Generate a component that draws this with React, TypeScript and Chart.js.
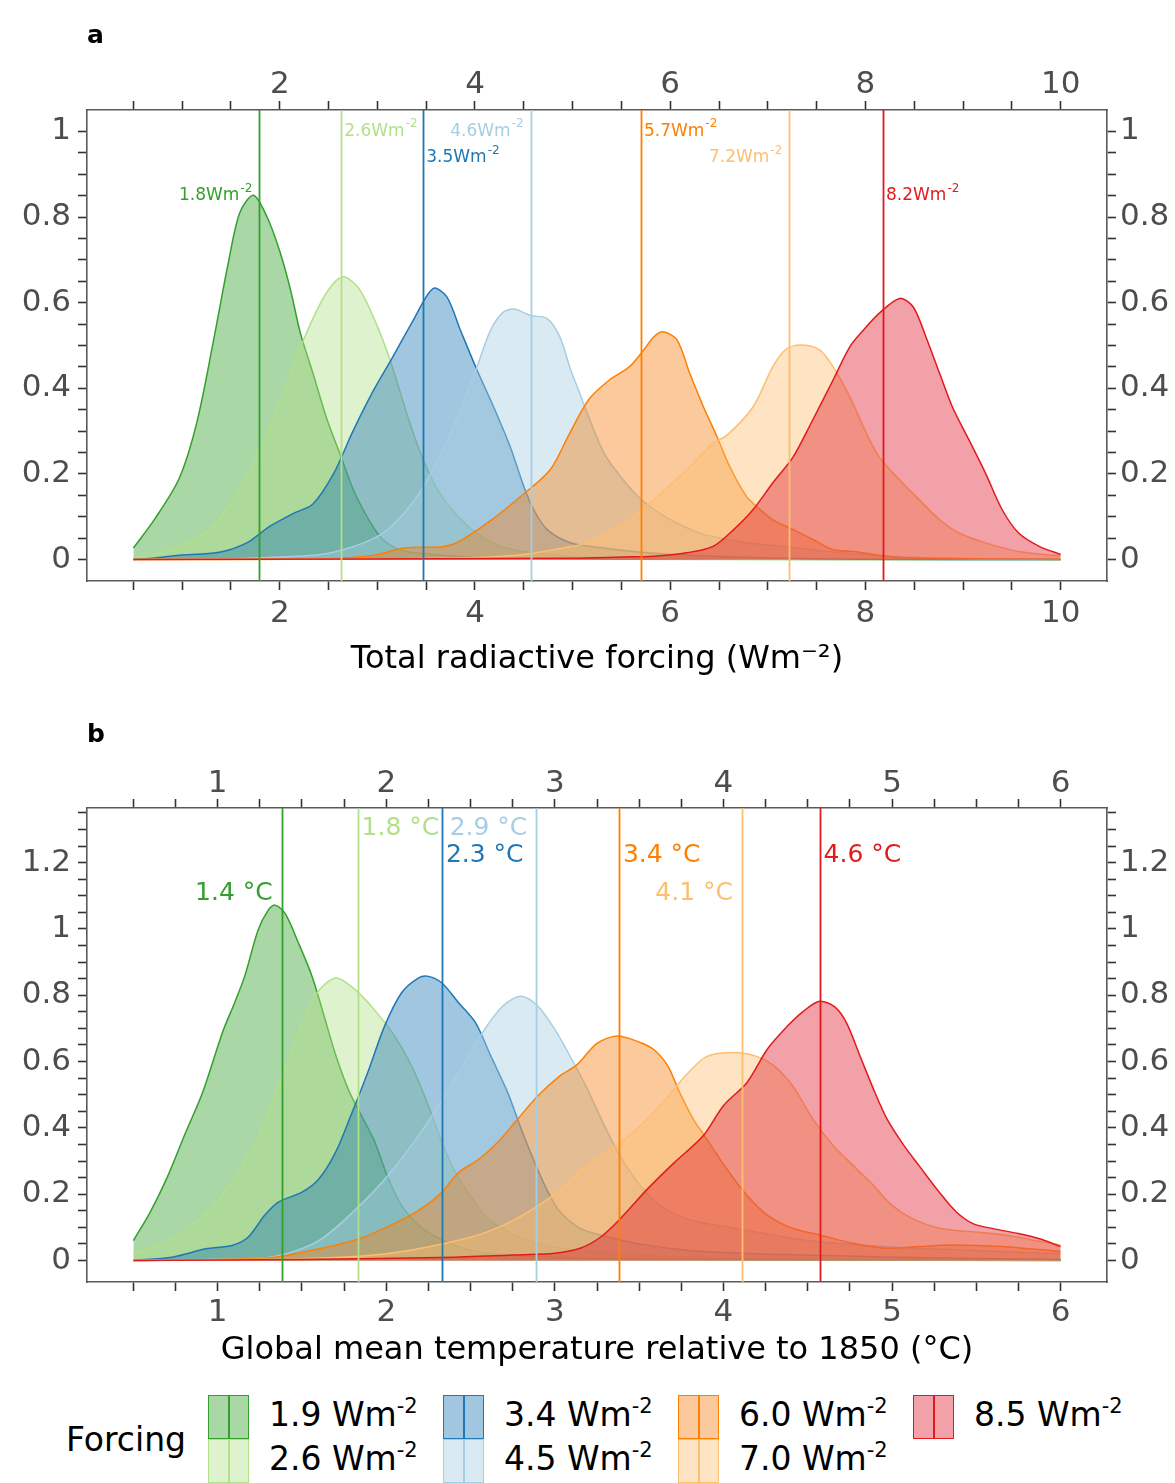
import React, { useEffect, useRef } from 'react';
import { Chart, registerables } from 'chart.js';

Chart.register(...registerables);

const FONT = '"DejaVu Sans", "Liberation Sans", sans-serif';

// ---------- shared categories / styling ----------
const forcingLevels = ['1.9', '2.6', '3.4', '4.5', '6.0', '7.0', '8.5'];
const lineColors = ['#33a02c', '#b2df8a', '#1f78b4', '#a6cee3', '#ff7f00', '#fdbf6f', '#e31a1c'];
const fillColors = [
  'rgba(51,160,44,0.42)',
  'rgba(178,223,138,0.42)',
  'rgba(31,120,180,0.42)',
  'rgba(166,206,227,0.42)',
  'rgba(245,127,20,0.42)',
  'rgba(253,191,111,0.42)',
  'rgba(222,30,45,0.42)',
];
const labelSides = ['right', 'left', 'left', 'right', 'left', 'right', 'left'];

// ---------- panel a: total radiative forcing densities [x, density] ----------
const rf19: [number, number][] = [[0.5,0.027],[0.72,0.095],[0.97,0.19],[1.15,0.32],[1.32,0.51],[1.47,0.69],[1.59,0.81],[1.73,0.851],[1.87,0.80],[2.0,0.72],[2.11,0.63],[2.21,0.53],[2.34,0.435],[2.48,0.33],[2.62,0.245],[2.75,0.165],[2.87,0.11],[2.99,0.065],[3.09,0.04],[3.27,0.02],[3.57,0.012],[3.97,0.006],[4.47,0.003],[5.5,0.001],[10,0]];
const rf26: [number, number][] = [[0.5,0.004],[0.72,0.012],[0.97,0.03],[1.22,0.06],[1.47,0.12],[1.72,0.22],[1.97,0.35],[2.22,0.5],[2.42,0.6],[2.57,0.65],[2.67,0.66],[2.82,0.63],[2.99,0.55],[3.13,0.466],[3.3,0.342],[3.44,0.25],[3.6,0.17],[3.77,0.115],[3.97,0.07],[4.22,0.035],[4.47,0.02],[4.97,0.008],[5.47,0.004],[6.5,0.001],[10,0]];
const rf34: [number, number][] = [[0.5,0],[0.72,0.004],[0.97,0.01],[1.27,0.014],[1.47,0.022],[1.67,0.04],[1.9,0.078],[2.14,0.108],[2.34,0.13],[2.55,0.2],[2.75,0.3],[2.96,0.395],[3.16,0.474],[3.37,0.56],[3.57,0.633],[3.71,0.614],[3.85,0.536],[4.02,0.443],[4.19,0.357],[4.36,0.264],[4.5,0.171],[4.6,0.117],[4.74,0.07],[4.97,0.04],[5.27,0.028],[5.67,0.018],[6.2,0.01],[7.0,0.004],[8.0,0.001],[10,0]];
const rf45: [number, number][] = [[0.5,0],[1.5,0.002],[2.0,0.006],[2.5,0.015],[2.97,0.05],[3.22,0.095],[3.47,0.17],[3.72,0.28],[3.87,0.36],[4.02,0.45],[4.16,0.536],[4.29,0.578],[4.4,0.585],[4.57,0.57],[4.74,0.563],[4.87,0.52],[4.97,0.45],[5.07,0.39],[5.17,0.33],[5.32,0.25],[5.47,0.2],[5.68,0.145],[5.95,0.1],[6.33,0.06],[6.78,0.04],[7.18,0.03],[7.78,0.015],[8.5,0.005],[10,0]];
const rf60: [number, number][] = [[0.5,0],[2.5,0.002],[2.97,0.01],[3.27,0.027],[3.67,0.03],[3.82,0.04],[4.17,0.093],[4.47,0.148],[4.77,0.21],[4.97,0.295],[5.17,0.375],[5.38,0.42],[5.58,0.45],[5.73,0.49],[5.83,0.52],[5.93,0.532],[6.07,0.513],[6.2,0.435],[6.34,0.357],[6.48,0.287],[6.61,0.217],[6.78,0.148],[6.92,0.117],[7.05,0.093],[7.26,0.07],[7.46,0.047],[7.67,0.023],[7.88,0.019],[8.21,0.008],[8.6,0.003],[10,0]];
const rf70: [number, number][] = [[0.5,0],[3.0,0.002],[4.0,0.005],[4.5,0.012],[4.97,0.03],[5.15,0.039],[5.49,0.078],[5.83,0.14],[6.17,0.21],[6.44,0.272],[6.58,0.29],[6.85,0.357],[7.05,0.45],[7.18,0.49],[7.33,0.501],[7.53,0.49],[7.67,0.45],[7.84,0.38],[8.01,0.295],[8.14,0.24],[8.35,0.186],[8.55,0.14],[8.76,0.093],[8.96,0.062],[9.23,0.039],[9.57,0.019],[10,0.008]];
const rf85: [number, number][] = [[0.5,0],[5.0,0.003],[5.5,0.006],[5.83,0.008],[6.17,0.016],[6.44,0.031],[6.65,0.07],[6.85,0.117],[7.05,0.179],[7.26,0.24],[7.46,0.326],[7.67,0.42],[7.84,0.497],[7.98,0.536],[8.14,0.575],[8.35,0.61],[8.49,0.59],[8.62,0.52],[8.76,0.435],[8.89,0.357],[9.06,0.28],[9.23,0.202],[9.4,0.117],[9.57,0.062],[9.78,0.031],[10,0.012]];
const rfMeans = [1.79, 2.63, 3.47, 4.57, 5.7, 7.22, 8.18];
const rfMeanLabels = ['1.8Wm', '2.6Wm', '3.5Wm', '4.6Wm', '5.7Wm', '7.2Wm', '8.2Wm'];
const rfLabelY = [0.85, 1.0, 0.938, 1.0, 1.0, 0.938, 0.85];
const rfAxisLabels = [2, 4, 6, 8, 10];
const rfDensityLabels = [0, 0.2, 0.4, 0.6, 0.8, 1];

// ---------- panel b: global mean temperature densities [x, density] ----------
const gt19: [number, number][] = [[0.5,0.06],[0.6,0.146],[0.7,0.25],[0.81,0.386],[0.91,0.506],[1.03,0.69],[1.1,0.777],[1.16,0.857],[1.24,0.997],[1.3,1.057],[1.34,1.072],[1.4,1.047],[1.48,0.957],[1.56,0.857],[1.63,0.74],[1.7,0.62],[1.78,0.51],[1.85,0.44],[1.93,0.36],[2.01,0.25],[2.09,0.167],[2.19,0.107],[2.31,0.067],[2.45,0.037],[2.6,0.022],[3.0,0.01],[3.5,0.005],[4.5,0.002],[6,0]];
const gt26: [number, number][] = [[0.5,0.02],[0.75,0.07],[1.0,0.18],[1.23,0.36],[1.4,0.58],[1.58,0.8],[1.7,0.852],[1.815,0.817],[1.93,0.756],[2.05,0.677],[2.15,0.587],[2.25,0.467],[2.33,0.356],[2.41,0.266],[2.51,0.187],[2.6,0.127],[2.72,0.087],[2.86,0.057],[3.03,0.037],[3.3,0.025],[3.7,0.012],[4.2,0.005],[5,0.002],[6,0]];
const gt34: [number, number][] = [[0.5,0],[0.73,0.01],[0.93,0.035],[1.085,0.045],[1.18,0.07],[1.28,0.137],[1.36,0.176],[1.5,0.206],[1.6,0.246],[1.7,0.327],[1.79,0.437],[1.89,0.567],[1.99,0.707],[2.09,0.807],[2.19,0.852],[2.25,0.857],[2.33,0.837],[2.43,0.777],[2.53,0.717],[2.62,0.617],[2.72,0.507],[2.8,0.397],[2.88,0.296],[2.96,0.206],[3.03,0.147],[3.15,0.097],[3.27,0.077],[3.5,0.05],[3.8,0.03],[4.2,0.02],[4.6,0.015],[5.0,0.01],[5.5,0.006],[6,0.003]];
const gt45: [number, number][] = [[0.5,0],[1.0,0.004],[1.34,0.012],[1.6,0.06],[1.81,0.15],[2.0,0.25],[2.21,0.39],[2.41,0.55],[2.57,0.687],[2.69,0.767],[2.8,0.797],[2.9,0.767],[3.0,0.697],[3.1,0.607],[3.19,0.52],[3.31,0.39],[3.43,0.28],[3.59,0.18],[3.78,0.126],[4.08,0.096],[4.5,0.06],[5.0,0.04],[5.5,0.03],[6.0,0.02]];
const gt60: [number, number][] = [[0.5,0],[1.0,0.003],[1.34,0.01],[1.62,0.037],[1.85,0.067],[2.07,0.117],[2.21,0.157],[2.33,0.206],[2.43,0.266],[2.55,0.306],[2.66,0.356],[2.78,0.427],[2.9,0.497],[3.03,0.557],[3.13,0.59],[3.25,0.655],[3.37,0.677],[3.51,0.657],[3.59,0.635],[3.67,0.587],[3.74,0.507],[3.82,0.427],[3.9,0.367],[4.02,0.276],[4.14,0.196],[4.26,0.137],[4.41,0.097],[4.57,0.077],[4.77,0.052],[4.96,0.037],[5.16,0.042],[5.36,0.047],[5.65,0.042],[6.0,0.027]];
const gt70: [number, number][] = [[0.5,0],[1.5,0.005],[2.0,0.02],[2.5,0.07],[2.75,0.12],[3.0,0.2],[3.19,0.286],[3.39,0.356],[3.55,0.427],[3.68,0.5],[3.78,0.56],[3.9,0.615],[4.06,0.627],[4.2,0.615],[4.3,0.587],[4.41,0.527],[4.53,0.427],[4.65,0.347],[4.77,0.286],[4.89,0.226],[5.0,0.166],[5.12,0.126],[5.28,0.097],[5.46,0.087],[5.67,0.077],[5.83,0.062],[6.0,0.047]];
const gt85: [number, number][] = [[0.5,0],[1.5,0.003],[2.41,0.01],[2.8,0.017],[3.0,0.022],[3.15,0.037],[3.27,0.07],[3.39,0.127],[3.55,0.216],[3.71,0.296],[3.88,0.376],[4.0,0.467],[4.14,0.537],[4.26,0.637],[4.38,0.707],[4.47,0.75],[4.57,0.782],[4.66,0.765],[4.73,0.717],[4.81,0.617],[4.89,0.517],[4.97,0.427],[5.07,0.347],[5.16,0.286],[5.28,0.206],[5.38,0.147],[5.48,0.111],[5.6,0.096],[5.75,0.081],[5.87,0.066],[6.0,0.042]];
const gtMeans = [1.38, 1.83, 2.33, 2.89, 3.38, 4.11, 4.57];
const gtMeanLabels = ['1.4 °C', '1.8 °C', '2.3 °C', '2.9 °C', '3.4 °C', '4.1 °C', '4.6 °C'];
const gtLabelY = [1.108, 1.303, 1.222, 1.303, 1.222, 1.108, 1.222];
const gtAxisLabels = [1, 2, 3, 4, 5, 6];
const gtDensityLabels = [0, 0.2, 0.4, 0.6, 0.8, 1, 1.2];

function steps(start: number, end: number, step: number) {
  const out: number[] = [];
  const n = Math.round((end - start) / step);
  for (let i = 0; i <= n; i++) out.push(Math.round((start + i * step) * 1000) / 1000);
  return out;
}

type Spec = {
  series: [number, number][][];
  means: number[];
  labels: string[];
  labelSup: string;
  labelY: number[];
  labelFont: number;
  gapL: number;
  gapR: number;
  xMin: number; xMax: number; yMin: number; yMax: number;
  xTicks: number[]; xLabels: number[];
  yTicks: number[]; yLabels: number[];
  title: string;
  height: number;
  topH: number; bottomH: number;
  topPad: number; bottomPad: number; titlePad: number;
};

const specA: Spec = {
  series: [rf19, rf26, rf34, rf45, rf60, rf70, rf85],
  means: rfMeans, labels: rfMeanLabels, labelSup: '-2', labelY: rfLabelY, labelFont: 17, gapL: 3, gapR: 7,
  xMin: 0.025, xMax: 10.475, yMin: -0.05, yMax: 1.05,
  xTicks: steps(0.5, 10, 0.5), xLabels: rfAxisLabels,
  yTicks: steps(0, 1, 0.05), yLabels: rfDensityLabels,
  title: 'Total radiactive forcing (Wm\u207B\u00B2)',
  height: 700, topH: 110, bottomH: 119, topPad: -3, bottomPad: 5, titlePad: 21,
};

const specB: Spec = {
  series: [gt19, gt26, gt34, gt45, gt60, gt70, gt85],
  means: gtMeans, labels: gtMeanLabels, labelSup: '', labelY: gtLabelY, labelFont: 25, gapL: 4, gapR: 9,
  xMin: 0.225, xMax: 6.275, yMin: -0.065, yMax: 1.365,
  xTicks: steps(0.5, 6, 0.25), xLabels: gtAxisLabels,
  yTicks: steps(0, 1.35, 0.05), yLabels: gtDensityLabels,
  title: 'Global mean temperature relative to 1850 (\u00B0C)',
  height: 690, topH: 108, bottomH: 108, topPad: -4, bottomPad: 3, titlePad: 20,
};

const hasLabel = (list: number[], v: number) => list.some((l) => Math.abs(l - v) < 1e-6);

function makeAxis(spec: Spec, id: string, position: string) {
  const horizontal = position === 'top' || position === 'bottom';
  const tickVals = horizontal ? spec.xTicks : spec.yTicks;
  const labelVals = horizontal ? spec.xLabels : spec.yLabels;
  let pad = 0;
  if (position === 'bottom') pad = spec.bottomPad;
  else if (position === 'top') pad = spec.topPad;
  else if (position === 'left') pad = 7;
  else pad = 4;
  return {
    type: 'linear',
    position,
    display: true,
    min: horizontal ? spec.xMin : spec.yMin,
    max: horizontal ? spec.xMax : spec.yMax,
    afterBuildTicks: (scale: any) => {
      scale.ticks = tickVals.map((v) => ({ value: v }));
    },
    afterFit: (scale: any) => {
      if (position === 'top') scale.height = spec.topH;
      else if (position === 'bottom') scale.height = spec.bottomH;
      else if (position === 'left') scale.width = 87;
      else scale.width = 68;
    },
    grid: {
      display: true,
      drawOnChartArea: false,
      drawTicks: true,
      tickLength: 9,
      tickWidth: 1.6,
      tickColor: '#333333',
      color: '#333333',
    },
    border: { display: true, color: '#5a5a5a', width: 1.6 },
    ticks: {
      autoSkip: false,
      maxRotation: 0,
      minRotation: 0,
      padding: pad,
      color: '#4d4d4d',
      font: { family: FONT, size: 31 },
      callback: (v: number) => (hasLabel(labelVals, v) ? String(Math.round(v * 100) / 100) : ''),
    },
    title:
      id === 'x'
        ? {
            display: true,
            text: spec.title,
            color: '#000000',
            font: { family: FONT, size: 32 },
            padding: { top: 0, bottom: spec.titlePad },
          }
        : { display: false },
  };
}

function meanPlugin(spec: Spec) {
  return {
    id: 'meanMarkers',
    afterDatasetsDraw(chart: any) {
      const { ctx, chartArea, scales } = chart;
      const xs = scales.x;
      const ys = scales.y;
      ctx.save();
      spec.means.forEach((m, i) => {
        const px = Math.round(xs.getPixelForValue(m)) + 0.5;
        ctx.strokeStyle = lineColors[i];
        ctx.lineWidth = 1.8;
        ctx.beginPath();
        ctx.moveTo(px, chartArea.top);
        ctx.lineTo(px, chartArea.bottom);
        ctx.stroke();
      });
      const supSize = Math.round(spec.labelFont * 0.68);
      spec.means.forEach((m, i) => {
        const px = xs.getPixelForValue(m);
        const py = ys.getPixelForValue(spec.labelY[i]);
        ctx.font = `${spec.labelFont}px ${FONT}`;
        const wMain = ctx.measureText(spec.labels[i]).width;
        let wSup = 0;
        if (spec.labelSup) {
          ctx.font = `${supSize}px ${FONT}`;
          wSup = ctx.measureText(spec.labelSup).width + 1;
        }
        const total = wMain + wSup;
        const x0 = labelSides[i] === 'left' ? px + spec.gapL : px - spec.gapR - total;
        ctx.fillStyle = lineColors[i];
        ctx.textAlign = 'left';
        ctx.textBaseline = 'middle';
        ctx.font = `${spec.labelFont}px ${FONT}`;
        ctx.fillText(spec.labels[i], x0, py);
        if (spec.labelSup) {
          ctx.font = `${supSize}px ${FONT}`;
          ctx.fillText(spec.labelSup, x0 + wMain + 1, py - spec.labelFont * 0.42);
        }
      });
      ctx.restore();
    },
  };
}

function buildConfig(spec: Spec): any {
  return {
    type: 'line',
    data: {
      datasets: spec.series.map((pts, i) => ({
        label: forcingLevels[i],
        data: pts.map(([x, y]) => ({ x, y })),
        borderColor: lineColors[i],
        backgroundColor: fillColors[i],
        borderWidth: 1.5,
        fill: 'origin',
        pointRadius: 0,
        tension: 0.3,
        order: spec.series.length - 1 - i,
        xAxisID: 'x',
        yAxisID: 'y',
      })),
    },
    options: {
      animation: false,
      responsive: false,
      devicePixelRatio: 1,
      events: [],
      layout: { padding: 0 },
      plugins: { legend: { display: false }, tooltip: { enabled: false }, title: { display: false } },
      scales: {
        x: makeAxis(spec, 'x', 'bottom'),
        x2: makeAxis(spec, 'x2', 'top'),
        y: makeAxis(spec, 'y', 'left'),
        y2: makeAxis(spec, 'y2', 'right'),
      },
    },
    plugins: [meanPlugin(spec)],
  };
}

function Panel({ spec, top }: { spec: Spec; top: number }) {
  const ref = useRef<HTMLCanvasElement>(null);
  useEffect(() => {
    if (!ref.current) return;
    const chart = new Chart(ref.current, buildConfig(spec));
    return () => chart.destroy();
  }, [spec]);
  return (
    <canvas
      ref={ref}
      width={1175}
      height={spec.height}
      style={{ position: 'absolute', left: 0, top, width: 1175, height: spec.height }}
    />
  );
}

function LegendKey({ i }: { i: number }) {
  return (
    <div
      style={{
        position: 'relative',
        width: 41,
        height: 44,
        boxSizing: 'border-box',
        background: fillColors[i],
        border: `1.5px solid ${lineColors[i]}`,
        flex: '0 0 auto',
      }}
    >
      <div
        style={{
          position: 'absolute',
          left: 19,
          top: 0,
          bottom: 0,
          width: 1.5,
          background: lineColors[i],
        }}
      />
    </div>
  );
}

export default function App() {
  useEffect(() => {
    document.body.style.margin = '0';
  }, []);
  return (
    <div style={{ position: 'relative', width: 1175, height: 1483, overflow: 'hidden', background: '#fff', fontFamily: FONT }}>
      <Panel spec={specA} top={0} />
      <Panel spec={specB} top={700} />
      <div style={{ position: 'absolute', left: 87, top: 22, font: `bold 25px ${FONT}`, lineHeight: '25px', color: '#000' }}>a</div>
      <div style={{ position: 'absolute', left: 87, top: 721, font: `bold 25px ${FONT}`, lineHeight: '25px', color: '#000' }}>b</div>
      <div style={{ position: 'absolute', left: 66, top: 1418, font: `33px ${FONT}`, lineHeight: '44px', color: '#000' }}>Forcing</div>
      <div
        style={{
          position: 'absolute',
          left: 208,
          top: 1395,
          display: 'grid',
          gridTemplateColumns: 'repeat(4, 235px)',
          gridTemplateRows: '44px 44px',
          gridAutoFlow: 'column',
        }}
      >
        {forcingLevels.map((lv, i) => (
          <div key={lv} style={{ display: 'flex', alignItems: 'center', height: 44 }}>
            <LegendKey i={i} />
            <span style={{ marginLeft: 20, font: `33px ${FONT}`, lineHeight: '44px', color: '#000', whiteSpace: 'nowrap' }}>
              {lv} Wm
              <span style={{ fontSize: 21, position: 'relative', top: -13 }}>-2</span>
            </span>
          </div>
        ))}
      </div>
    </div>
  );
}
